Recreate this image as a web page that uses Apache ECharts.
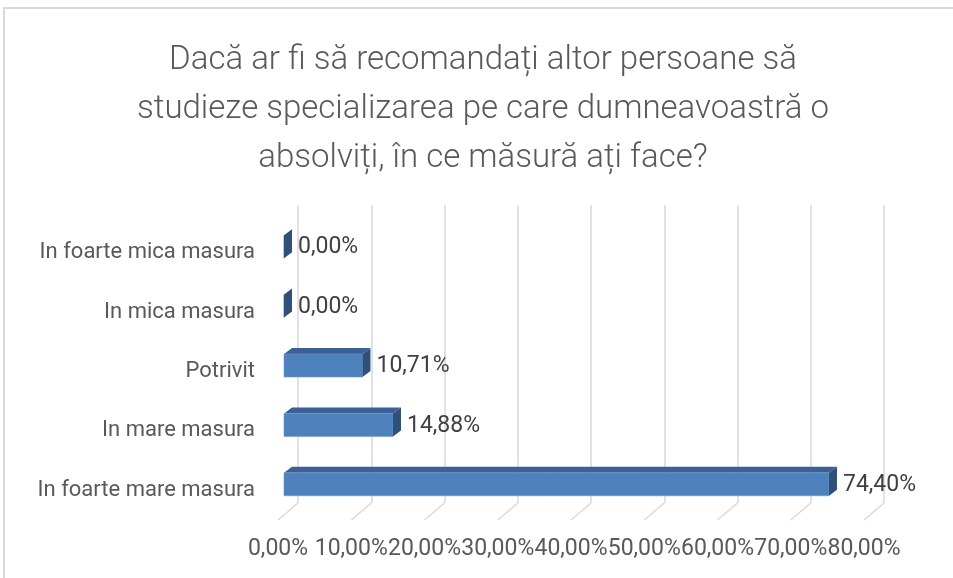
<!DOCTYPE html>
<html lang="ro" style="height: 100%;">

<head>
    <meta charset="UTF-8">
    <title>Recomandare specializare</title>
    <script src="https://cdn.jsdelivr.net/npm/echarts@6.0.0/dist/echarts.min.js"></script>
</head>

<body style="height: 100%; margin: 0;">

    <div style="width: 953px;height: 578px;" id="chart"></div>

    <script>
        // categorii de jos in sus (axa categorie porneste de jos)
        var categories = ['In foarte mare masura', 'In mare masura', 'Potrivit', 'In mica masura', 'In foarte mica masura']
        var values = [74.40, 14.88, 10.71, 0.00, 0.00]
        var ticks = [0, 10, 20, 30, 40, 50, 60, 70, 80]

        var titleText = 'Dacă ar fi să recomandați altor persoane să\nstudieze specializarea pe care dumneavoastră o\nabsolviți, în ce măsură ați face?'

        var fontName = 'Roboto'
        var gray = '#595959'

        function pct(v) {
            return v.toFixed(2).replace('.', ',') + '%'
        }

        // adancimea 3D a barelor
        var dx = 8, dy = 6, barH = 23

        function renderBar(params, api) {
            var cat = api.value(0)
            var v = api.value(1)
            var p0 = api.coord([0, cat])
            var p1 = api.coord([v, cat])
            var top = p0[1] - barH / 2
            var bot = p0[1] + barH / 2
            var x0 = p0[0], x1 = p1[0]
            return {
                type: 'group',
                children: [
                    {
                        type: 'polygon',
                        shape: { points: [[x0, top], [x1, top], [x1 + dx, top - dy], [x0 + dx, top - dy]] },
                        style: { fill: '#3a6096' }
                    },
                    {
                        type: 'rect',
                        shape: { x: x0, y: top, width: x1 - x0, height: barH },
                        style: { fill: '#4f81bd', stroke: '#6f98cc', lineWidth: 0.6 }
                    },
                    {
                        type: 'polygon',
                        shape: { points: [[x1, top], [x1 + dx, top - dy], [x1 + dx, bot - dy], [x1, bot]] },
                        style: { fill: '#2f5079' }
                    },
                    {
                        type: 'text',
                        style: {
                            x: x1 + dx + 6, y: p0[1] + 1,
                            text: pct(v),
                            fill: '#404040',
                            font: '23px ' + fontName,
                            verticalAlign: 'middle',
                            align: 'left'
                        }
                    }
                ]
            }
        }

        function renderFloor(params, api) {
            var p = api.coord([api.value(0), 0])
            return {
                type: 'line',
                shape: { x1: p[0], y1: p[1], x2: p[0] + 20, y2: p[1] - 17 },
                style: { stroke: '#d9d9d9', lineWidth: 1.5 }
            }
        }

        var chart = echarts.init(document.getElementById('chart'))

        var option = {
            backgroundColor: '#fff',
            animation: false,
            title: {
                text: titleText,
                left: 478,
                top: 31,
                textAlign: 'center',
                textStyle: {
                    fontFamily: fontName,
                    fontWeight: 300,
                    fontSize: 33,
                    lineHeight: 49,
                    color: gray
                }
            },
            graphic: [{
                type: 'rect',
                shape: { x: 4, y: 8, width: 1000, height: 620 },
                style: { fill: 'none', stroke: '#d9d9d9', lineWidth: 2 },
                silent: true
            }],
            grid: [
                // planul frontal al barelor
                { left: 284, width: 586, top: 217, height: 297 },
                // marginea din fata a podelei (etichete axa X)
                { left: 278, width: 586, top: 217, bottom: 58 },
                // peretele din spate (linii de grila)
                { left: 298, width: 586, top: 205, bottom: 75 },
                // etichetele categoriilor, putin mai jos decat barele
                { left: 284, width: 586, top: 223, height: 297 }
            ],
            xAxis: [
                { gridIndex: 0, type: 'value', min: 0, max: 80, interval: 10, show: false },
                {
                    gridIndex: 1, type: 'value', min: 0, max: 80, interval: 10,
                    axisLine: { show: false }, axisTick: { show: false }, splitLine: { show: false },
                    axisLabel: {
                        margin: 18,
                        color: gray,
                        fontFamily: fontName,
                        fontSize: 23,
                        formatter: function (v) { return pct(v) }
                    }
                },
                {
                    gridIndex: 2, type: 'value', min: 0, max: 80, interval: 10,
                    axisLine: { show: false }, axisTick: { show: false }, axisLabel: { show: false },
                    splitLine: { show: true, lineStyle: { color: '#d9d9d9', width: 1.5 } }
                },
                { gridIndex: 3, type: 'value', min: 0, max: 80, show: false }
            ],
            yAxis: [
                { gridIndex: 0, type: 'category', data: categories, show: false },
                { gridIndex: 1, type: 'value', min: 0, max: 1, show: false },
                { gridIndex: 2, type: 'value', min: 0, max: 1, show: false },
                {
                    gridIndex: 3, type: 'category', data: categories,
                    axisLine: { show: false }, axisTick: { show: false }, splitLine: { show: false },
                    axisLabel: {
                        margin: 29,
                        color: gray,
                        fontFamily: fontName,
                        fontSize: 22
                    }
                }
            ],
            series: [
                {
                    type: 'custom',
                    xAxisIndex: 1,
                    yAxisIndex: 1,
                    renderItem: renderFloor,
                    data: ticks.map(function (t) { return [t] }),
                    silent: true
                },
                {
                    type: 'custom',
                    xAxisIndex: 0,
                    yAxisIndex: 0,
                    encode: { x: 1, y: 0 },
                    renderItem: renderBar,
                    data: values.map(function (v, i) { return [i, v] }),
                    z: 5
                }
            ]
        }

        chart.setOption(option)
    </script>

</body>

</html>
